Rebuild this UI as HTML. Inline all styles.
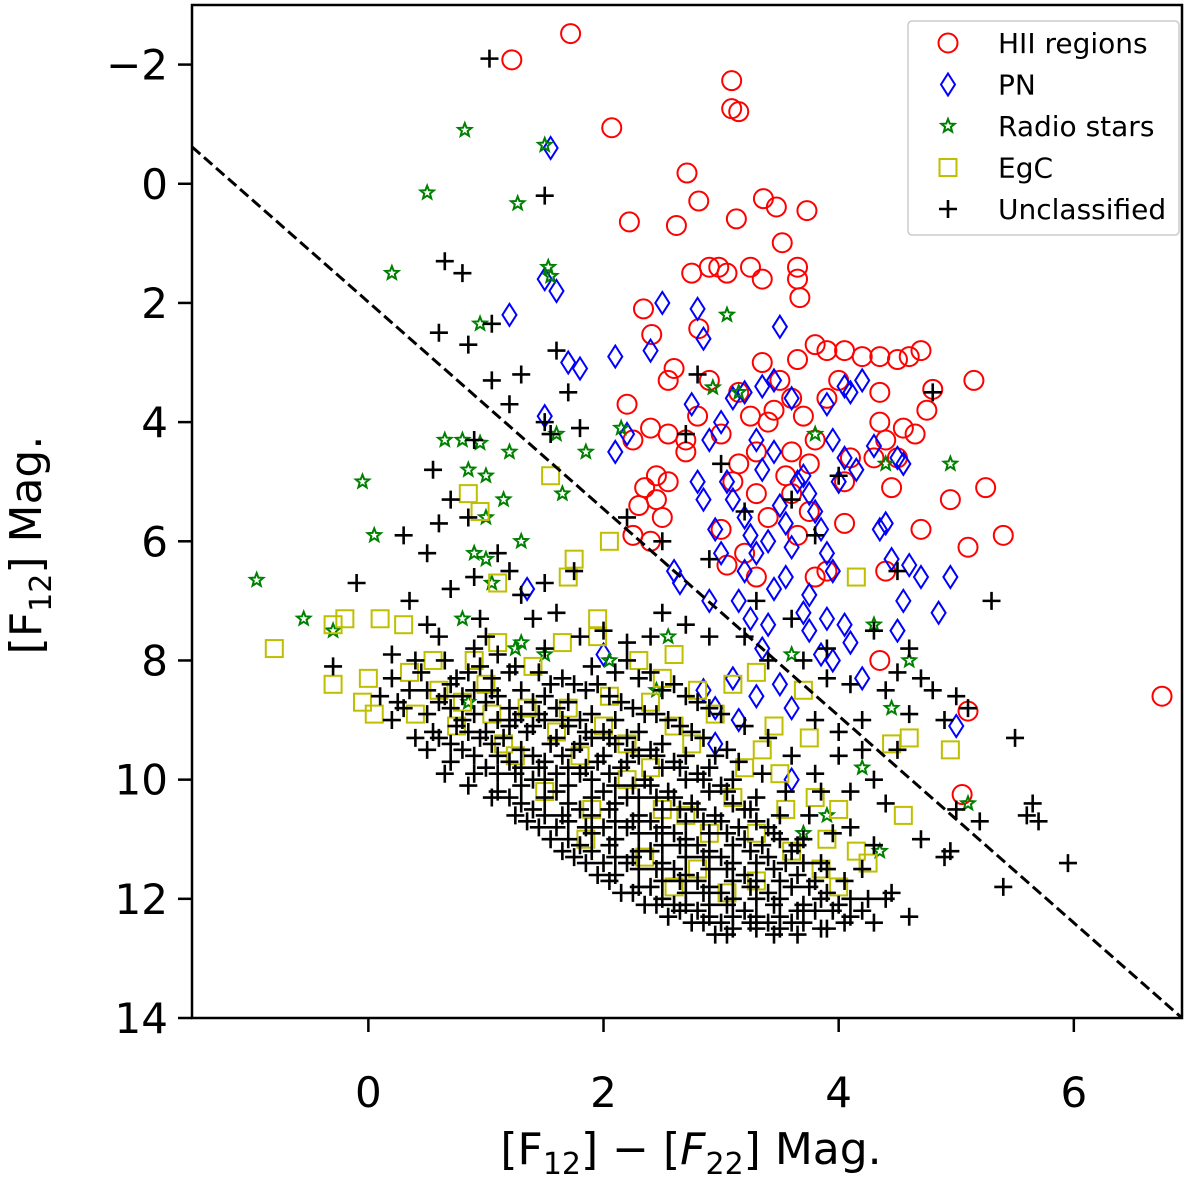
<!DOCTYPE html>
<html><head><meta charset="utf-8">
<style>
html,body{margin:0;padding:0;background:#fff;}
svg{display:block;font-family:"DejaVu Sans","Liberation Sans",sans-serif;}
</style></head>
<body>
<svg id="chart" width="1200" height="1185" viewBox="0 0 1200 1185" xmlns="http://www.w3.org/2000/svg">
<g id="marks"></g>
<g id="axes"></g>
</svg>
<script>
const xTicks = [0, 2, 4, 6];
const xTickLabels = ["0", "2", "4", "6"];
const yTicks = [-2, 0, 2, 4, 6, 8, 10, 12, 14];
const yTickLabels = ["\u22122", "0", "2", "4", "6", "8", "10", "12", "14"];
const xDomain = [-1.5, 6.92];
const yDomain = [-3.0, 14];
const cutLine = [[-1.5, -0.62], [6.92, 14]];

const hiiRegions = [[1.72,-2.52],[1.22,-2.08],[3.09,-1.73],[3.09,-1.26],[3.15,-1.21],[2.07,-0.94],[2.71,-0.18],[2.81,0.29],[3.13,0.59],[2.22,0.64],[2.62,0.7],[3.36,0.25],[3.47,0.39],[3.73,0.45],[3.52,0.99],[2.75,1.5],[2.9,1.4],[2.98,1.4],[3.05,1.5],[3.25,1.4],[3.65,1.4],[3.65,1.6],[3.35,1.6],[2.81,2.43],[2.34,2.1],[2.41,2.53],[3.67,1.91],[2.6,3.1],[2.55,3.3],[2.2,3.7],[2.25,4.3],[2.4,4.1],[2.55,4.2],[2.7,4.5],[2.8,3.9],[2.7,4.3],[2.45,4.9],[2.35,5.1],[2.3,5.4],[2.45,5.3],[2.55,5.0],[2.5,5.6],[2.25,5.9],[2.4,6.0],[3.0,5.8],[3.05,6.4],[3.2,6.2],[3.3,6.6],[3.4,5.6],[3.3,5.2],[3.15,4.7],[3.3,4.5],[3.4,4.0],[3.25,3.9],[3.15,3.5],[3.35,3.0],[3.5,3.3],[3.6,3.6],[3.7,3.9],[3.8,4.3],[3.6,4.5],[3.75,4.7],[3.55,4.9],[3.6,5.2],[3.75,5.5],[3.65,5.9],[3.8,6.6],[3.9,6.5],[4.05,5.7],[4.05,5.0],[4.1,4.6],[3.65,2.95],[3.8,2.7],[3.9,2.8],[4.05,2.8],[4.2,2.9],[4.35,2.9],[4.5,2.95],[4.6,2.9],[4.7,2.8],[4.35,3.5],[4.35,4.0],[4.4,4.3],[4.3,4.6],[4.55,4.1],[4.65,4.2],[4.5,4.6],[4.75,3.8],[4.8,3.45],[5.15,3.3],[4.95,5.3],[5.25,5.1],[4.45,5.1],[4.7,5.8],[5.1,6.1],[5.4,5.9],[4.4,6.5],[4.35,8.0],[5.1,8.85],[5.05,10.25],[6.75,8.6],[3.9,3.6],[4.0,3.3],[3.45,3.8],[2.9,3.3],[3.0,4.2],[3.1,5.0]];

const planetaryNebulae = [[1.55,-0.6],[1.5,1.6],[1.6,1.8],[1.2,2.2],[1.7,3.0],[1.8,3.1],[2.1,2.9],[2.4,2.8],[2.5,2.0],[2.8,2.1],[2.85,2.6],[3.5,2.4],[1.35,6.8],[1.5,3.9],[2.1,4.5],[2.2,4.2],[2.75,3.7],[2.9,4.3],[3.1,3.6],[3.2,3.5],[3.35,3.4],[3.45,3.3],[3.6,3.6],[3.9,3.7],[3.95,4.3],[4.05,3.4],[4.1,3.5],[4.2,3.3],[4.3,4.4],[4.5,4.6],[4.55,4.7],[4.4,5.7],[4.35,5.8],[4.45,6.3],[4.6,6.4],[4.7,6.6],[4.55,7.0],[4.5,7.5],[4.95,6.6],[5.0,9.1],[4.85,7.2],[2.6,6.5],[2.65,6.7],[2.9,7.0],[2.85,8.5],[2.95,8.8],[3.1,8.3],[3.15,9.0],[2.95,9.4],[3.3,8.6],[3.35,7.8],[3.4,7.4],[3.45,6.8],[3.55,6.6],[3.5,8.4],[3.6,8.8],[3.7,7.2],[3.75,7.5],[3.85,7.9],[3.95,8.0],[4.05,7.4],[4.1,7.7],[4.2,8.3],[3.05,5.0],[3.1,5.3],[3.2,5.6],[3.25,5.9],[3.3,6.2],[3.4,6.0],[3.5,5.4],[3.55,5.7],[3.6,6.1],[3.65,5.0],[3.7,4.9],[3.75,5.2],[3.8,5.5],[3.85,5.8],[3.9,6.2],[3.95,6.5],[4.0,5.0],[4.05,4.6],[4.15,4.8],[3.3,4.3],[3.35,4.8],[3.45,4.5],[3.2,6.5],[3.0,6.2],[2.95,5.8],[2.85,5.3],[2.8,5.0],[3.0,4.0],[3.75,6.9],[3.9,7.3],[3.6,10.0],[2.0,7.9],[3.15,7.0],[3.25,7.3]];

const radioStars = [[-0.95,6.65],[-0.55,7.3],[-0.3,7.5],[0.2,1.5],[0.5,0.15],[0.82,-0.9],[1.27,0.33],[1.5,-0.65],[1.53,1.4],[0.95,2.35],[1.55,1.55],[-0.05,5.0],[0.05,5.9],[0.65,4.3],[0.8,4.3],[0.95,4.35],[0.85,4.8],[1.0,4.9],[1.2,4.5],[1.0,5.6],[1.15,5.3],[0.9,6.2],[1.0,6.3],[1.6,4.2],[1.65,5.2],[1.85,4.5],[2.15,4.1],[1.3,6.0],[1.05,6.7],[0.8,7.3],[1.3,7.7],[1.5,7.9],[0.85,8.7],[2.05,8.0],[2.45,8.5],[2.93,3.42],[3.05,2.2],[3.15,3.5],[3.8,4.2],[4.4,4.7],[4.95,4.7],[3.6,7.9],[4.3,7.4],[4.6,8.0],[4.45,8.8],[3.7,10.9],[3.9,10.6],[4.2,9.8],[4.35,11.2],[5.1,10.4],[1.25,7.8],[2.55,7.6]];

const egcSources = [[-0.8,7.8],[-0.3,8.4],[-0.3,7.4],[-0.2,7.3],[0.1,7.3],[0.3,7.4],[0.0,8.3],[0.05,8.9],[-0.05,8.7],[0.35,8.2],[0.6,8.5],[0.8,8.7],[0.85,5.2],[0.95,5.5],[1.1,6.7],[1.55,4.9],[1.75,6.3],[1.7,6.6],[2.05,6.0],[1.95,7.3],[1.95,7.6],[1.65,7.7],[1.1,7.7],[1.4,8.1],[2.3,8.0],[2.5,8.3],[2.6,7.9],[2.8,8.5],[3.1,8.4],[3.3,8.2],[2.95,8.9],[3.45,9.1],[3.35,9.5],[3.7,8.5],[3.5,9.9],[3.8,10.3],[4.0,10.5],[3.9,11.0],[4.15,11.2],[4.25,11.4],[4.55,10.6],[4.6,9.3],[4.45,9.4],[4.95,9.5],[4.15,6.6],[3.05,11.9],[2.6,11.8],[2.8,11.5],[3.3,11.7],[1.5,10.2],[1.9,10.5],[2.2,10.0],[2.7,10.6],[1.25,9.6],[0.75,9.1],[1.05,8.9],[1.35,8.8],[1.7,8.8],[2.0,9.1],[2.2,9.4],[2.4,9.8],[2.5,10.5],[2.9,10.9],[3.1,10.3],[3.3,10.9],[1.6,9.2],[0.9,8.0],[0.55,8.0],[2.05,8.6],[2.4,8.7],[2.75,9.4],[3.6,11.2],[3.55,10.5],[1.15,9.4],[1.85,11.0],[2.35,11.3],[3.85,11.5],[4.0,11.8],[3.75,9.3],[0.4,8.9],[1.0,8.4],[1.8,9.6],[2.6,9.1],[3.2,9.8]];

const unclassified = [[1.03,-2.1],[1.5,0.2],[0.65,1.3],[0.8,1.5],[0.6,2.5],[0.85,2.7],[1.05,2.35],[1.6,2.8],[1.05,3.3],[1.3,3.2],[1.7,3.5],[1.2,3.7],[1.5,4.0],[1.8,4.1],[1.55,4.2],[0.9,4.3],[0.55,4.8],[0.7,5.3],[0.85,5.6],[0.6,5.7],[0.3,5.9],[0.5,6.2],[1.1,6.2],[1.2,6.5],[0.9,6.6],[1.5,6.7],[0.7,6.8],[-0.1,6.7],[0.35,7.0],[0.95,7.3],[1.75,6.5],[2.2,5.6],[2.5,6.0],[2.9,6.3],[2.7,4.2],[2.8,3.2],[3.0,4.7],[3.2,5.5],[3.6,5.3],[3.8,5.9],[4.0,4.9],[4.5,6.5],[4.7,8.3],[5.0,8.6],[5.1,8.8],[5.3,7.0],[5.5,9.3],[5.65,10.4],[5.6,10.6],[5.7,10.7],[5.95,11.4],[5.4,11.8],[5.2,10.7],[5.0,10.5],[4.95,11.2],[4.9,11.3],[4.7,11.0],[4.6,12.3],[4.3,11.1],[4.2,9.0],[4.0,9.6],[3.8,9.0],[4.5,9.5],[4.8,3.5],[3.6,7.3],[3.9,7.8],[4.3,7.5],[4.6,7.8],[4.4,8.5],[3.4,8.0],[3.2,7.6],[2.7,7.4],[2.5,7.2],[2.2,7.7],[1.8,7.6],[1.4,7.3],[1.0,7.6],[0.6,7.6],[0.2,7.9],[-0.3,8.1],[0.1,8.6],[4.1,8.4],[4.6,8.9],[4.9,9.0],[4.3,10.0],[4.1,10.8],[4.4,12.0],
[0.2,8.3],[0.25,8.7],[0.2,9.0],[0.5,8.5],[0.5,8.9],[0.55,9.2],[0.5,9.5],[0.45,8.2],[0.7,8.4],[0.7,8.8],[0.75,9.1],[0.7,9.4],[0.7,9.7],[0.65,8.0],[0.9,8.5],[0.9,8.9],[0.95,9.3],[0.9,9.6],[0.9,9.9],[0.85,8.2],[0.9,7.8],[1.1,8.6],[1.1,9.0],[1.15,9.3],[1.1,9.6],[1.1,9.9],[1.1,10.2],[1.05,8.3],[1.1,7.9],[1.3,8.5],[1.3,8.9],[1.35,9.2],[1.3,9.5],[1.3,9.8],[1.3,10.1],[1.3,10.4],[1.25,8.1],[1.5,8.6],[1.5,9.0],[1.55,9.4],[1.5,9.7],[1.5,10.0],[1.5,10.3],[1.5,10.6],[1.45,8.2],[1.5,7.8],[1.7,8.7],[1.7,9.1],[1.75,9.5],[1.7,9.8],[1.7,10.1],[1.7,10.4],[1.7,10.7],[1.7,11.0],[1.65,8.3],[1.9,8.9],[1.9,9.3],[1.95,9.7],[1.9,10.0],[1.9,10.3],[1.9,10.6],[1.9,10.9],[1.9,11.2],[1.85,8.5],[1.9,8.1],[2.1,9.0],[2.1,9.4],[2.15,9.8],[2.1,10.1],[2.1,10.4],[2.1,10.7],[2.1,11.0],[2.1,11.3],[2.1,11.6],[2.05,8.6],[2.1,8.2],[2.3,9.2],[2.3,9.6],[2.35,10.0],[2.3,10.3],[2.3,10.6],[2.3,10.9],[2.3,11.2],[2.3,11.5],[2.3,11.8],[2.25,8.8],[2.3,8.3],[2.5,9.4],[2.5,9.8],[2.55,10.2],[2.5,10.5],[2.5,10.8],[2.5,11.1],[2.5,11.4],[2.5,11.7],[2.5,12.0],[2.45,8.9],[2.5,8.5],[2.7,9.6],[2.7,10.0],[2.75,10.4],[2.7,10.7],[2.7,11.0],[2.7,11.3],[2.7,11.6],[2.7,11.9],[2.7,12.1],[2.65,9.1],[2.7,8.6],[2.9,9.8],[2.9,10.2],[2.95,10.6],[2.9,10.9],[2.9,11.2],[2.9,11.5],[2.9,11.8],[2.9,12.1],[2.9,12.3],[2.85,9.3],[2.9,8.8],[3.1,10.0],[3.1,10.4],[3.15,10.8],[3.1,11.1],[3.1,11.4],[3.1,11.7],[3.1,12.0],[3.1,12.3],[3.1,12.5],[3.05,9.5],[3.3,10.3],[3.3,10.7],[3.35,11.1],[3.3,11.4],[3.3,11.7],[3.3,12.0],[3.3,12.3],[3.3,12.5],[3.5,10.6],[3.5,11.0],[3.55,11.4],[3.5,11.7],[3.5,12.0],[3.5,12.3],[3.5,12.5],[3.7,11.0],[3.7,11.4],[3.75,11.8],[3.7,12.1],[3.7,12.4],[3.9,11.5],[3.9,11.9],[3.95,12.2],[3.9,12.5],[4.1,12.0],[4.1,12.3],
[0.35,8.5],[0.6,8.7],[0.6,9.3],[0.8,8.6],[0.8,9.0],[0.8,9.5],[1.0,8.7],[1.0,9.2],[1.0,9.8],[1.2,8.8],[1.2,9.1],[1.2,9.7],[1.2,10.3],[1.4,8.7],[1.4,9.1],[1.4,9.6],[1.4,10.0],[1.4,10.5],[1.6,8.8],[1.6,9.3],[1.6,9.9],[1.6,10.2],[1.6,10.8],[1.8,9.0],[1.8,9.4],[1.8,9.9],[1.8,10.5],[1.8,11.1],[2.0,9.2],[2.0,9.6],[2.0,10.2],[2.0,10.8],[2.0,11.4],[2.2,9.3],[2.2,9.7],[2.2,10.3],[2.2,10.8],[2.2,11.4],[2.4,9.5],[2.4,10.1],[2.4,10.7],[2.4,11.2],[2.4,11.8],[2.6,9.7],[2.6,10.3],[2.6,10.9],[2.6,11.5],[2.6,12.1],[2.8,9.9],[2.8,10.5],[2.8,11.1],[2.8,11.7],[2.8,12.2],[3.0,10.1],[3.0,10.7],[3.0,11.3],[3.0,11.9],[3.0,12.4],[3.2,10.5],[3.2,11.0],[3.2,11.6],[3.2,12.2],[3.4,10.8],[3.4,11.3],[3.4,11.9],[3.4,12.4],[3.6,11.2],[3.6,11.8],[3.6,12.4],[3.8,11.7],[3.8,12.2],[4.0,12.1],[4.2,12.2],[4.3,12.4],[4.45,11.9],[4.2,11.5],[3.95,10.9],[3.75,10.6],[3.55,10.2],[3.35,9.9],[3.15,9.7],[2.95,9.6],[2.75,9.2],[2.55,9.0],[2.35,8.9],[2.15,8.7],[1.95,8.4],[1.75,8.4],[1.55,8.4],
[0.3,8.8],[0.4,9.3],[0.65,8.6],[0.65,9.9],[0.85,9.2],[0.85,10.1],[1.05,8.5],[1.05,9.4],[1.05,10.3],[1.25,9.0],[1.25,9.9],[1.25,10.6],[1.45,8.9],[1.45,9.8],[1.45,10.8],[1.65,9.0],[1.65,9.6],[1.65,10.6],[1.65,11.2],[1.85,9.2],[1.85,9.8],[1.85,10.8],[1.85,11.4],[2.05,9.3],[2.05,9.9],[2.05,10.5],[2.05,11.1],[2.05,11.7],[2.25,9.5],[2.25,10.1],[2.25,10.7],[2.25,11.3],[2.25,11.9],[2.45,9.6],[2.45,10.3],[2.45,10.9],[2.45,11.5],[2.45,12.1],[2.65,9.8],[2.65,10.5],[2.65,11.1],[2.65,11.7],[2.65,12.2],[2.85,10.0],[2.85,10.7],[2.85,11.3],[2.85,11.9],[2.85,12.4],[3.05,10.2],[3.05,10.9],[3.05,11.5],[3.05,12.1],[3.05,12.6],[3.25,10.5],[3.25,11.2],[3.25,11.8],[3.25,12.4],[3.45,10.9],[3.45,11.5],[3.45,12.1],[3.45,12.6],[3.65,11.1],[3.65,11.6],[3.65,12.2],[3.65,12.6],[3.85,11.4],[3.85,12.0],[3.85,12.5],[4.05,11.7],[4.05,12.4],[4.25,12.0],[3.6,9.6],[3.8,9.9],[3.4,9.3],[3.2,9.1],[3.0,8.9],[2.8,8.7],[2.6,8.4],[2.4,8.2],[2.2,8.0],[1.2,8.2],[0.95,8.1],[0.75,8.3],[0.4,8.0],[1.35,10.7],[1.55,11.0],[1.75,11.3],[1.95,11.6],[2.15,11.9],[2.35,12.1],[2.55,12.3],[2.75,12.4],[2.95,12.6],
[3.7,8.0],[3.9,8.3],[4.0,9.2],[4.2,9.5],[4.1,10.2],[4.4,10.4],[3.85,10.2],[4.5,8.2],[4.8,8.5],[3.3,7.0],[2.9,7.6],[2.4,7.6],[2.0,7.5],[1.6,7.2],[1.3,6.9],[0.5,7.4]];

const series = [
  {name:'hii', label:'HII regions', data:hiiRegions, color:'#ff0000', shape:'circle'},
  {name:'pn', label:'PN', data:planetaryNebulae, color:'#0000ff', shape:'diamond'},
  {name:'radio', label:'Radio stars', data:radioStars, color:'#008000', shape:'star'},
  {name:'egc', label:'EgC', data:egcSources, color:'#bfbf00', shape:'square'},
  {name:'unclassified', label:'Unclassified', data:unclassified, color:'#000000', shape:'plus'}
];

const P = {left:192, right:1182, top:5, bottom:1018};
const NS = 'http://www.w3.org/2000/svg';
function sx(v){ return P.left + (v - xDomain[0]) / (xDomain[1] - xDomain[0]) * (P.right - P.left); }
function sy(v){ return P.top + (v - yDomain[0]) / (yDomain[1] - yDomain[0]) * (P.bottom - P.top); }
function mk(tag, attrs, parent){ const e = document.createElementNS(NS, tag); for (const k in attrs) e.setAttribute(k, attrs[k]); parent.appendChild(e); return e; }

function shapeEl(shape, cx, cy, color, parent){
  let e;
  if (shape === 'circle') e = mk('circle', {cx:cx, cy:cy, r:9.5, fill:'none', stroke:color, 'stroke-width':2}, parent);
  else if (shape === 'diamond') e = mk('path', {d:`M${cx},${cy-11}L${cx+7},${cy}L${cx},${cy+11}L${cx-7},${cy}Z`, fill:'none', stroke:color, 'stroke-width':2}, parent);
  else if (shape === 'square') e = mk('rect', {x:cx-8.5, y:cy-8.5, width:17, height:17, fill:'none', stroke:color, 'stroke-width':2}, parent);
  else if (shape === 'star') {
    let d = '';
    for (let i = 0; i < 10; i++) { const r = i % 2 ? 3 : 7; const a = -Math.PI/2 + i*Math.PI/5; d += (i ? 'L' : 'M') + (cx + r*Math.cos(a)).toFixed(2) + ',' + (cy + r*Math.sin(a)).toFixed(2); }
    e = mk('path', {d:d + 'Z', fill:'none', stroke:color, 'stroke-width':2}, parent);
  } else e = mk('path', {d:`M${cx-9},${cy}H${cx+9}M${cx},${cy-9}V${cy+9}`, fill:'none', stroke:color, 'stroke-width':2.6}, parent);
  return e;
}

const svg = document.getElementById('chart');
const marks = document.getElementById('marks');
const axes = document.getElementById('axes');

const clip = mk('clipPath', {id:'plotclip'}, svg);
mk('rect', {x:P.left, y:P.top, width:P.right-P.left, height:P.bottom-P.top}, clip);
marks.setAttribute('clip-path', 'url(#plotclip)');

series.forEach(s => {
  const g = mk('g', {}, marks);
  
  
  s.data.forEach(p => {
    const el = shapeEl(s.shape, sx(p[0]), sy(p[1]), s.color, g);
    
    
  });
});

const cut = mk('line', {x1:sx(cutLine[0][0]), y1:sy(cutLine[0][1]), x2:sx(cutLine[1][0]), y2:sy(cutLine[1][1]), stroke:'#000', 'stroke-width':3, 'stroke-dasharray':'11,5'}, marks);



const frame = mk('rect', {x:P.left, y:P.top, width:P.right-P.left, height:P.bottom-P.top, fill:'none', stroke:'#000', 'stroke-width':2.5}, axes);



xTicks.forEach((v, i) => {
  const x = sx(v);
  const t = mk('line', {x1:x, y1:P.bottom, x2:x, y2:P.bottom+14, stroke:'#000', 'stroke-width':2.5}, axes);
  
  
  const l = mk('text', {x:x, y:1107, 'text-anchor':'middle', 'font-size':42, fill:'#000'}, axes);
  l.textContent = xTickLabels[i];
  
  
});
yTicks.forEach((v, i) => {
  const y = sy(v);
  const t = mk('line', {x1:P.left-14, y1:y, x2:P.left, y2:y, stroke:'#000', 'stroke-width':2.5}, axes);
  
  
  const l = mk('text', {x:P.left-24, y:y+15, 'text-anchor':'end', 'font-size':42, fill:'#000'}, axes);
  l.textContent = yTickLabels[i];
  
  
});

const lg = mk('g', {}, axes);


mk('rect', {x:908, y:21, width:271, height:214, rx:4, fill:'#fff', 'fill-opacity':0.8, stroke:'#ccc', 'stroke-width':1.5}, lg);
series.forEach((s, i) => {
  const y = 43 + i*41.5;
  const e = mk('g', {}, lg);
  
  
  shapeEl(s.shape, 948, y, s.color, e);
  const t = mk('text', {x:998, y:y+10, 'font-size':28, fill:'#000'}, e);
  t.textContent = s.label;
});
</script>
<div style="position:absolute;left:0;top:0;width:1200px;height:1185px;pointer-events:none;font-family:'DejaVu Sans','Liberation Sans',sans-serif;">
  <div style="position:absolute;left:0;width:1382px;top:1124px;text-align:center;font-size:44px;white-space:nowrap;">[F<sub style="font-size:30px">12</sub>] − [<i>F</i><sub style="font-size:30px">22</sub>] Mag.</div>
  <div style="position:absolute;left:30px;top:545px;transform:translate(-50%,-50%) rotate(-90deg);font-size:44px;white-space:nowrap;">[F<sub style="font-size:30px">12</sub>] Mag.</div>
</div>
</body></html>
